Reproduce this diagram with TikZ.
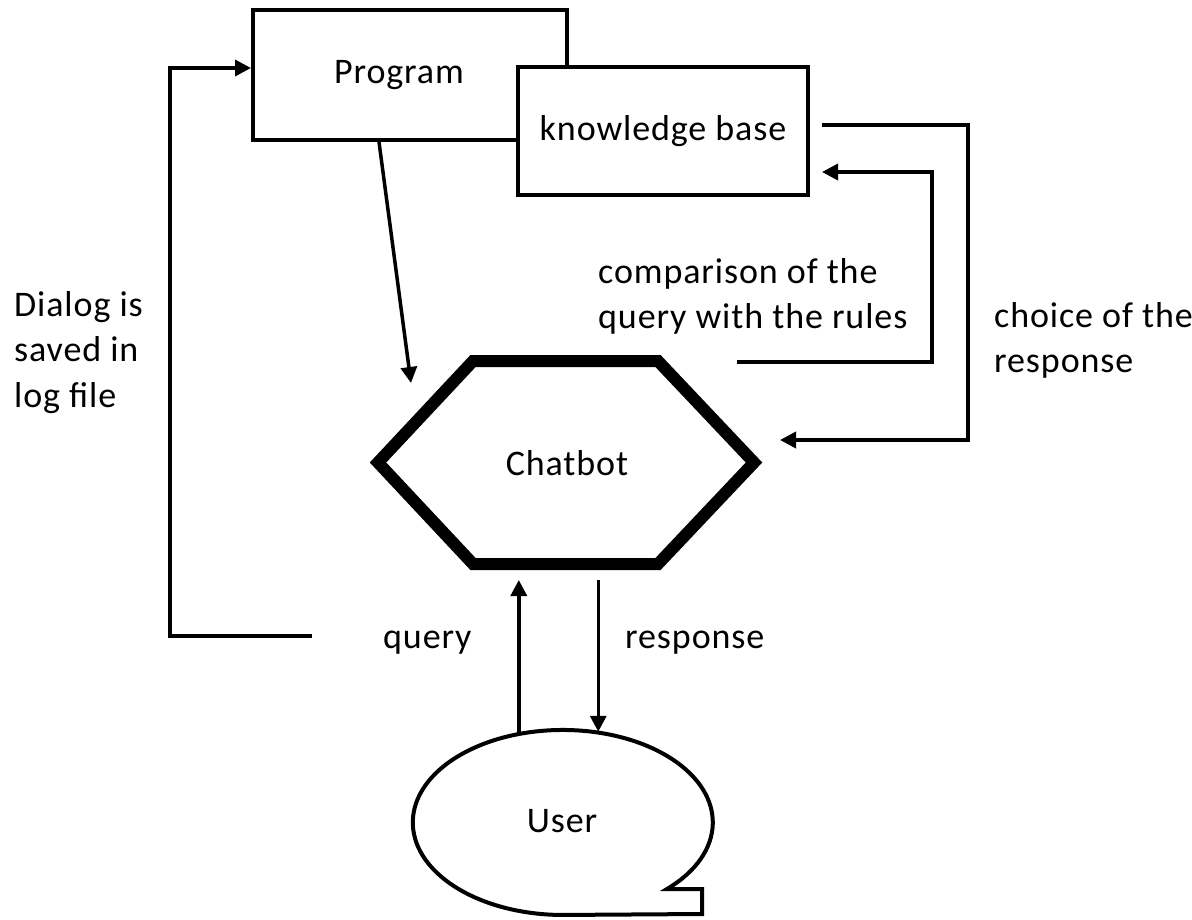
\documentclass[tikz,border=0pt]{standalone}
\usepackage{fontspec}
\setmainfont{Carlito}[LetterSpace=2.5]
\usetikzlibrary{arrows.meta,shapes.geometric}

\tikzset{
  box/.style = {
    draw,
    shape=rectangle,
    line width=4pt,
    fill=white,
    inner sep=0pt
  },
  arr/.style = {
    -{Triangle[length=16pt,width=16pt]},
    line width=3.5pt
  },
  txt/.style = {
    align=left,
    inner sep=0pt
  },
}

\begin{document}
\begin{tikzpicture}[
  x=1pt, y=-1pt,
  font=\fontsize{36}{45.5}\selectfont
]
  \useasboundingbox (0,0) rectangle (1192,919);

  % the two boxes on top
  \node (prog)[
    box,
    minimum width=314pt,
    minimum height=130pt
  ] at (410,75) {\hspace*{-22pt}Program};
  \node (kb)[
    box,
    minimum width=290pt,
    minimum height=128pt
  ] at (663,131) {knowledge base};

  % chatbot hexagon
  \draw[line width=12pt]
    (378,462.5) -- (473,361) -- (658,361) -- (754,462.5)
    -- (658,564) -- (473,564) -- cycle;
  \node (chatbot) at (567,463) {Chatbot};

  % user speech bubble
  \node (user)[
    ellipse,
    minimum width=300pt,
    minimum height=185pt,
    inner sep=0pt,
    outer sep=0pt
  ] at (562,821.5) {User};
  \draw[line width=4pt]
    (667,889) arc[start angle=46, end angle=-270, x radius=150, y radius=92.5]
    -- (702,914) -- (702,889) -- cycle;

  % labels
  \node (dialog)[txt, anchor=north west] at (14,291) {Dialog is\\saved in\\log file};
  \node (compare)[txt, anchor=north west] at (598,258) {comparison of the\\query with the rules};
  \node (choice)[txt, anchor=north west] at (994,302) {choice of the\\response};
  \node (query)[txt, anchor=base west] at (383,648) {query};
  \node (response)[txt, anchor=base west] at (625,648) {response};

  % free ends of the connectors
  \coordinate (hexbot) at (557,580);
  \coordinate (progend) at (411,383);
  \coordinate (logstart) at (312,636);
  \coordinate (cmpstart) at (737,362);
  \coordinate (choiceend) at (780,440);

  \draw[arr] ([xshift=-31pt]prog.south) -- (progend);
  \draw[arr] (user.116.5) -- (user.116.5 |- hexbot);
  \draw[arr] (user.68.7 |- hexbot) -- (user.68.7);
  \draw[arr] (logstart) -- (170,636) |- ([yshift=7pt]prog.west);
  \draw[arr] (cmpstart) -| (932,172) -- ([xshift=12pt,yshift=-41pt]kb.east);
  \draw[arr] ([xshift=12pt,yshift=6pt]kb.east) -| (968,440) -- (choiceend);
\end{tikzpicture}
\end{document}
